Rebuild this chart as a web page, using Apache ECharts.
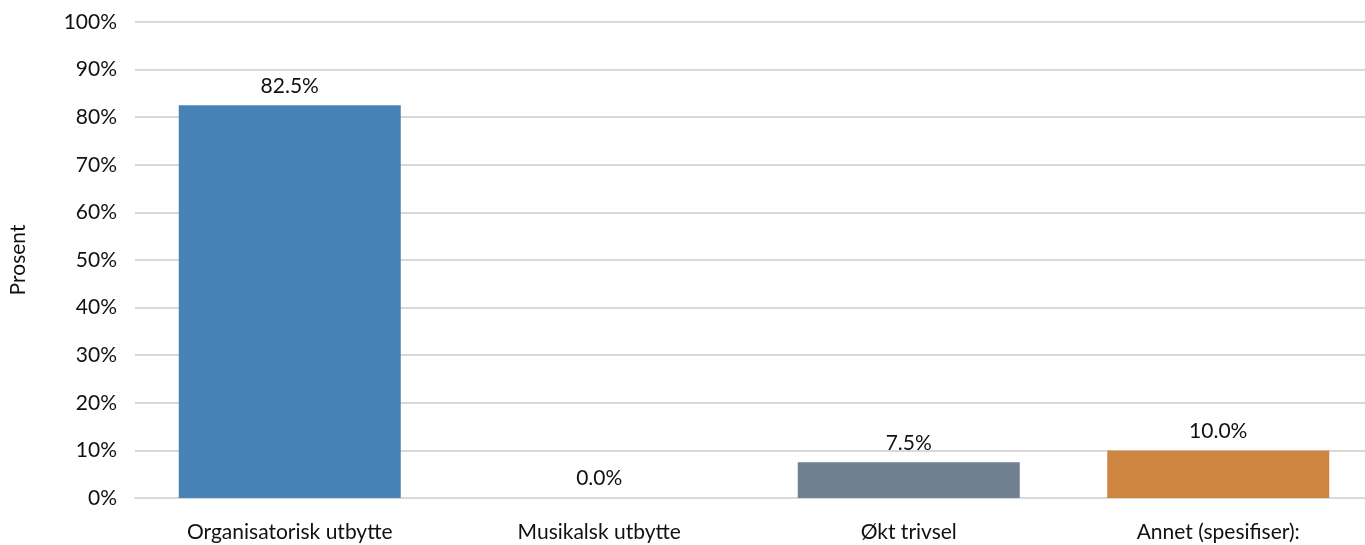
<!DOCTYPE html>
<html>
<head>
<meta charset="utf-8">
<script src="https://cdn.jsdelivr.net/npm/echarts@6/dist/echarts.min.js"></script>
<style>
  html, body { margin: 0; padding: 0; background: #fff; overflow: hidden; width: 1365px; height: 545px; }
  /* the plot runs slightly past the right edge of the page */
  #chart { width: 1373px; height: 545px; }
</style>
</head>
<body>
<div id="chart"></div>
<script>
// Categories and their shares (percent)
const categories = ['Organisatorisk utbytte', 'Musikalsk utbytte', 'Økt trivsel', 'Annet (spesifiser):'];
const values = [82.5, 0.0, 7.5, 10.0];
const barColors = ['#4682B4', '#6A8CAF', '#708090', '#CD853F'];
const yTicks = [0, 10, 20, 30, 40, 50, 60, 70, 80, 90, 100];

const FONT = 'Lato, "Open Sans", sans-serif';
const chart = echarts.init(document.getElementById('chart'), null, { renderer: 'canvas' });

chart.setOption({
  animation: false,
  grid: { left: 133, right: 0, top: 22, bottom: 47 },
  xAxis: {
    type: 'category',
    data: categories,
    axisTick: { show: false },
    axisLine: { show: true, lineStyle: { color: '#d9d9d9', width: 2 } },
    axisLabel: { color: '#111', fontFamily: FONT, fontSize: 21, margin: 24 }
  },
  yAxis: {
    type: 'value',
    min: yTicks[0],
    max: yTicks[yTicks.length - 1],
    interval: 10,
    name: 'Prosent',
    nameLocation: 'middle',
    nameGap: 106,
    nameTextStyle: { color: '#111', fontFamily: FONT, fontSize: 21 },
    axisLine: { show: false },
    axisTick: { show: false },
    splitLine: { lineStyle: { color: '#d9d9d9', width: 2 } },
    axisLabel: { color: '#111', fontFamily: FONT, fontSize: 21, margin: 18, formatter: v => v + '%' }
  },
  series: [{
    type: 'bar',
    barWidth: 222,
    data: values.map((v, i) => ({ value: v, itemStyle: { color: barColors[i] } })),
    label: {
      show: true,
      position: 'top',
      distance: 9,
      color: '#111',
      fontFamily: FONT,
      fontSize: 21,
      formatter: p => p.value.toFixed(1) + '%'
    }
  }]
});
</script>
</body>
</html>
